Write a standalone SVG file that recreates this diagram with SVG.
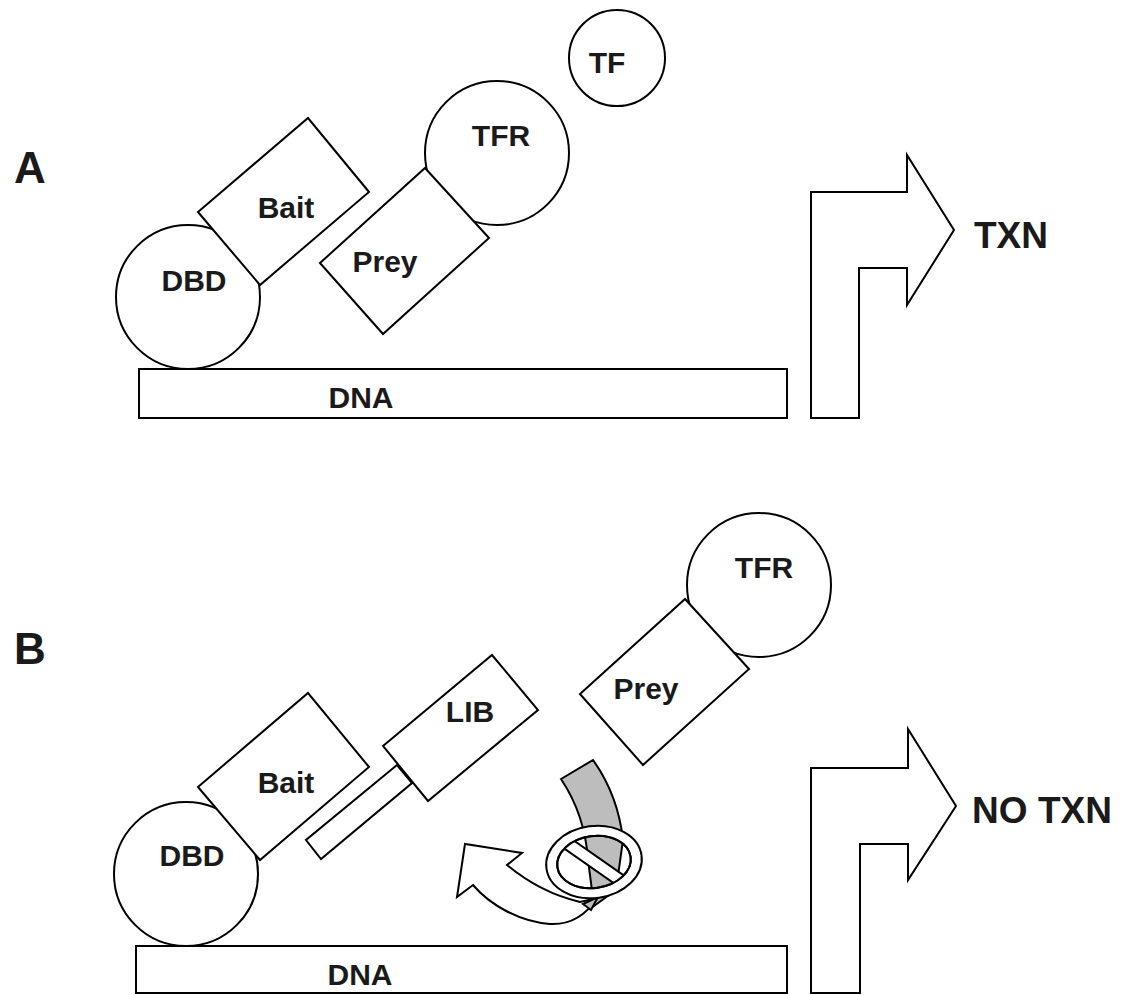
<svg xmlns="http://www.w3.org/2000/svg" width="1128" height="995" viewBox="0 0 1128 995">
<defs>
<style>
.s{fill:#fff;stroke:#000;stroke-width:2;stroke-linejoin:miter}
.t{font-family:"Liberation Sans",Arial,sans-serif;font-weight:bold;font-size:30px;fill:#1a1a1a;text-anchor:middle}
.big{font-size:37px}
.pl{font-size:44px}
.g{fill:#bdbdbd;stroke:#000;stroke-width:2}
</style>
<clipPath id="inner"><ellipse cx="0" cy="0" rx="37" ry="26"/></clipPath>
</defs>
<rect width="1128" height="995" fill="#fff"/>

<text class="t pl" x="30" y="183">A</text>
<text class="t pl" x="30" y="664">B</text>

<!-- Panel A -->
<g id="dnaA"><rect class="s" x="139" y="369" width="648" height="49"/><text class="t" x="361" y="408">DNA</text></g>
<g id="dbdA"><circle class="s" cx="188" cy="297" r="72"/><text class="t" x="194" y="291">DBD</text></g>
<g id="baitA"><polygon class="s" points="198,212 308,118 369,192 260,285"/><text class="t" x="286" y="218">Bait</text></g>
<g id="tfrA"><circle class="s" cx="497" cy="153" r="72"/><text class="t" x="501" y="146">TFR</text></g>
<g id="preyA"><polygon class="s" points="320,263 425,168 489,238 383,334"/><text class="t" x="385" y="272">Prey</text></g>
<g id="tfA"><circle class="s" cx="617" cy="58" r="48"/><text class="t" x="607" y="73">TF</text></g>
<g id="arrowA"><polygon class="s" points="811,418 811,192 907,192 907,155 954,230 907,305 907,268 859,268 859,418"/></g>
<g id="txnA"><text class="t big" x="1011" y="248">TXN</text></g>

<!-- Panel B -->
<g id="dnaB"><rect class="s" x="136" y="946" width="651" height="47"/><text class="t" x="360" y="985">DNA</text></g>
<g id="dbdB"><circle class="s" cx="186" cy="874" r="72"/><text class="t" x="192" y="866">DBD</text></g>
<g id="baitB"><polygon class="s" points="198,787 308,693 369,767 260,860"/><text class="t" x="286" y="793">Bait</text></g>
<g id="libB"><polygon class="s" points="397,765 306,840 321,859 412,783"/><polygon class="s" points="383,746 492,655 538,710 428,801"/><text class="t" x="470" y="722">LIB</text></g>
<g id="tfrB"><circle class="s" cx="759" cy="585" r="72"/><text class="t" x="764" y="578">TFR</text></g>
<g id="preyB"><polygon class="s" points="580,694 685,599 749,669 643,765"/><text class="t" x="646" y="699">Prey</text></g>
<g id="arrowB"><polygon class="s" points="811,993 811,768 908,768 908,729 956,806 908,880 908,844 860,844 860,993"/></g>
<g id="txnB"><text class="t big" x="1042" y="823">NO TXN</text></g>

<!-- blocked curved arrow -->
<g id="blocked">
<path class="g" d="M561,779 L593,760 Q618,795 623,840 L616,890 L594,906 L588,860 Q585,815 561,779 Z"/>
<path class="s" d="M507,865 C525,880 550,895 580,902 L597,898 C586,915 570,925 550,924 C520,922 490,905 473,885 L457,897 L465,844 L522,853 Z"/>
<path class="g" d="M583,904 L598,897 L591,910 Z"/>
<g transform="translate(594,862) rotate(-8)">
<path d="M-48,0 A48,36 0 1,0 48,0 A48,36 0 1,0 -48,0 Z M-37,0 A37,26 0 1,0 37,0 A37,26 0 1,0 -37,0 Z" fill="#fff" fill-rule="evenodd" stroke="#000" stroke-width="2"/>
<g clip-path="url(#inner)"><rect x="-50" y="-6" width="100" height="12" transform="rotate(43)" fill="#fff" stroke="#000" stroke-width="2"/></g>
<ellipse cx="0" cy="0" rx="37" ry="26" fill="none" stroke="#000" stroke-width="2"/>
</g>
</g>
</svg>
